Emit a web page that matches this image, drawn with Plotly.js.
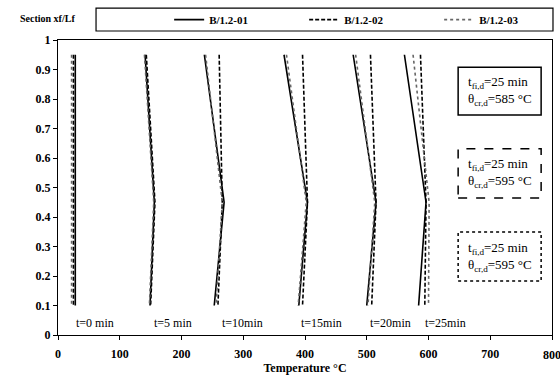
<!DOCTYPE html>
<html>
<head>
<meta charset="utf-8">
<script src="https://cdn.plot.ly/plotly-3.0.1.min.js"></script>
<style>html,body{margin:0;padding:0;background:#fff;}#chart{width:560px;height:381px;}</style>
</head>
<body>
<div id="chart"></div>
<script>
// Section positions xf/Lf (top, kink, bottom)
const sections = [0.95, 0.45, 0.10];
const times = ['t=0 min', 't=5 min', 't=10min', 't=15min', 't=20min', 't=25min'];
const timeLabelX = [60, 186, 299, 427, 538, 627];
// Temperatures (°C) at each section, one row per time
const tempB01 = [[28, 28, 28], [141, 156, 149], [237, 269, 253], [366, 404, 390], [478, 515, 500], [561, 596, 584]];
const tempB02 = [[25, 25, 25], [143, 157, 150], [261, 266, 259], [396, 404, 396], [506, 515, 508], [587, 596, 594]];
const tempB03 = [[22, 22, 22], [140, 155, 148], [239, 266, 256], [370, 402, 389], [482, 513, 502], [575, 601, 600]];
const seriesNames = ['B/1.2-01', 'B/1.2-02', 'B/1.2-03'];
const xTickMax = '800';
const boxTexts = [
  't<sub>fi,d</sub>=25 min<br>θ<sub>cr,d</sub>=585 °C',
  't<sub>fi,d</sub>=25 min<br>θ<sub>cr,d</sub>=595 °C',
  't<sub>fi,d</sub>=25 min<br>θ<sub>cr,d</sub>=595 °C'
];

const serif = 'Liberation Serif';
const styles = [
  {color: '#000', width: 1.6, dash: 'solid'},
  {color: '#000', width: 1.6, dash: '4px,2px'},
  {color: '#666', width: 1.6, dash: 'dot'}
];
const allSeries = [tempB01, tempB02, tempB03];
const traces = [];
allSeries.forEach((s, si) => {
  s.forEach((row, ti) => {
    traces.push({
      x: row, y: sections, type: 'scatter', mode: 'lines',
      name: seriesNames[si], legendgroup: seriesNames[si], showlegend: ti === 0,
      line: styles[si], hoverinfo: 'skip'
    });
  });
});

const annotations = times.map((t, i) => ({
  x: timeLabelX[i], y: 0.04, xref: 'x', yref: 'y', text: t, showarrow: false,
  font: {family: serif, size: 12, color: '#000'}
}));
annotations.push({
  x: -0.081, y: 1.072, xref: 'paper', yref: 'paper', xanchor: 'left', yanchor: 'middle',
  text: 'Section xf/Lf', showarrow: false, font: {family: serif, size: 10, color: '#000', weight: 'bold'}
});
annotations.push({
  x: 800, y: 0, xref: 'x', yref: 'paper', xanchor: 'center', yanchor: 'top', yshift: -11,
  text: xTickMax, showarrow: false, font: {family: serif, size: 12, color: '#000', weight: 'bold'}
});
const boxY0 = [0.746, 0.464, 0.183];
const boxY1 = [0.908, 0.631, 0.349];
const boxDash = ['solid', 'dash', 'dot'];
const shapes = [];
boxTexts.forEach((bt, i) => {
  annotations.push({
    x: 0.894, y: (boxY0[i] + boxY1[i]) / 2, xref: 'paper', yref: 'paper',
    xanchor: 'center', yanchor: 'middle', text: bt, showarrow: false,
    align: 'left', font: {family: serif, size: 13, color: '#000'}
  });
  shapes.push({
    type: 'rect', xref: 'paper', yref: 'paper',
    x0: 0.810, x1: 0.978, y0: boxY0[i], y1: boxY1[i],
    line: {color: '#000', width: 1.5, dash: boxDash[i]}
  });
});
// legend frame
shapes.push({
  type: 'rect', xref: 'paper', yref: 'paper',
  x0: 0.077, x1: 1.002, y0: 1.0305, y1: 1.108,
  line: {color: '#000', width: 1.2}
});

const layout = {
  width: 560, height: 381,
  margin: {l: 58, r: 8, t: 40, b: 46, autoexpand: false},
  paper_bgcolor: '#fff', plot_bgcolor: '#fff',
  font: {family: serif, color: '#000'},
  showlegend: true,
  legend: {
    orientation: 'h', x: 0.225, xanchor: 'left', y: 1.069, yanchor: 'middle',
    borderwidth: 0, bgcolor: 'rgba(0,0,0,0)',
    font: {family: serif, size: 11, color: '#000', weight: 'bold'},
    entrywidth: 90, itemwidth: 30, tracegroupgap: 0
  },
  xaxis: {
    range: [0, 800], dtick: 100, tick0: 0, showgrid: false, zeroline: false,
    showline: true, linecolor: '#000', linewidth: 1.2, mirror: true,
    ticks: 'outside', ticklen: 4, tickcolor: '#000', ticklabelstandoff: 3,
    tickfont: {family: serif, size: 12, color: '#000', weight: 'bold'},
    title: {text: 'Temperature °C', font: {family: serif, size: 12, color: '#000', weight: 'bold'}, standoff: 4}
  },
  yaxis: {
    range: [0, 1], dtick: 0.1, tick0: 0, showgrid: false, zeroline: false,
    showline: true, linecolor: '#000', linewidth: 1.2, mirror: true,
    ticks: 'outside', ticklen: 4, tickcolor: '#000',
    tickfont: {family: serif, size: 12, color: '#000', weight: 'bold'}
  },
  annotations: annotations,
  shapes: shapes
};
Plotly.newPlot('chart', traces, layout, {staticPlot: true, displayModeBar: false});
</script>
</body>
</html>
